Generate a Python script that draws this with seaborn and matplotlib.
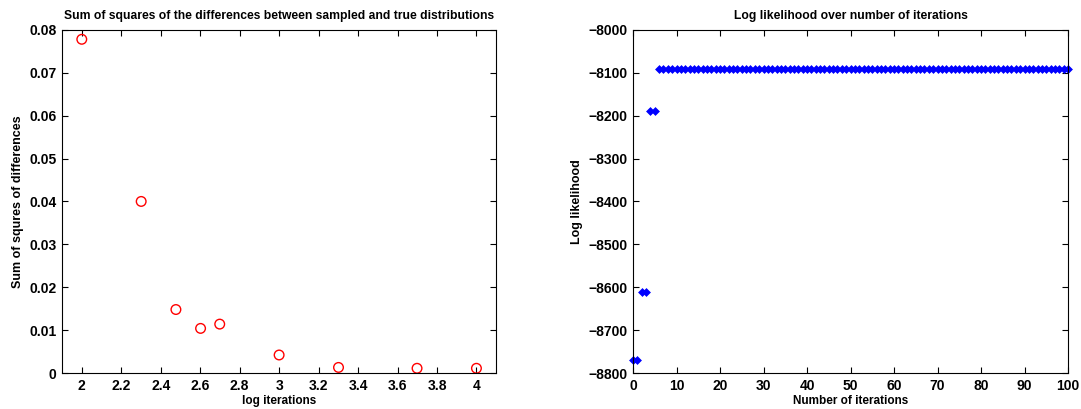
import numpy as np
import pandas as pd
import seaborn as sns
import matplotlib.pyplot as plt

# Left panel: sum of squared differences vs log10(iterations)
log_iters = [2.0, 2.301, 2.477, 2.602, 2.699, 3.0, 3.301, 3.699, 4.0]
sq_diff = [0.0778, 0.0400, 0.0148, 0.0104, 0.0114, 0.0042, 0.0013, 0.0011, 0.0011]

# Right panel: log likelihood per iteration (0..100)
n_iter = list(range(0, 101))
loglik = [-8769] * 2 + [-8610] * 2 + [-8190] * 2 + [-8092] * 95

sns.set_theme(style='white')
plt.rcParams['font.family'] = ['Liberation Sans', 'DejaVu Sans']
plt.rcParams['font.weight'] = 'bold'
plt.rcParams['text.color'] = 'black'
plt.rcParams['axes.labelcolor'] = 'black'

fig = plt.figure(figsize=(10.81, 4.09), dpi=100)
ax1 = fig.add_axes([0.0574, 0.088, 0.4016, 0.839])
ax2 = fig.add_axes([0.5856, 0.088, 0.4024, 0.839])

df1 = pd.DataFrame({'x': log_iters, 'y': sq_diff})
sns.scatterplot(data=df1, x='x', y='y', ax=ax1, marker='o', s=48,
                facecolor='none', edgecolor='red', linewidth=1, clip_on=False)
ax1.set_xlim(1.9, 4.1)
ax1.set_ylim(0, 0.08)
ax1.set_xticks(np.arange(2, 4.01, 0.2))
ax1.set_xticklabels(['2', '2.2', '2.4', '2.6', '2.8', '3', '3.2', '3.4', '3.6', '3.8', '4'])
ax1.set_yticks(np.arange(0, 0.081, 0.01))
ax1.set_yticklabels(['0'] + ['%.2f' % v for v in np.arange(0.01, 0.081, 0.01)])
ax1.set_title('Sum of squares of the differences between sampled and true distributions',
              fontsize=8.7, fontweight='bold', pad=8, color='black')
ax1.set_xlabel('log iterations', fontsize=8.5, fontweight='bold', labelpad=2, color='black')
ax1.set_ylabel('Sum of squres of differences', fontsize=9, fontweight='bold', labelpad=4,
               color='black')

df2 = pd.DataFrame({'x': n_iter, 'y': loglik})
sns.scatterplot(data=df2, x='x', y='y', ax=ax2, marker='D', s=16,
                color='blue', edgecolor='blue', linewidth=0.5, clip_on=False)
ax2.set_xlim(0, 100)
ax2.set_ylim(-8800, -8000)
ax2.set_xticks(range(0, 101, 10))
ax2.set_yticks(range(-8800, -7999, 100))
ax2.set_title('Log likelihood over number of iterations', fontsize=8.7,
              fontweight='bold', pad=8, color='black')
ax2.set_xlabel('Number of iterations', fontsize=8.5, fontweight='bold', labelpad=2,
               color='black')
ax2.set_ylabel('Log likelihood', fontsize=9, fontweight='bold', labelpad=4, color='black')

for ax in (ax1, ax2):
    for sp in ax.spines.values():
        sp.set_color('black')
        sp.set_linewidth(0.8)
    ax.tick_params(direction='in', length=4, width=0.8, top=True, right=True,
                   bottom=True, left=True, labelsize=10, colors='black', pad=4)
    for lab in ax.get_xticklabels() + ax.get_yticklabels():
        lab.set_fontweight('bold')

fig.savefig('out.png', dpi=100)
